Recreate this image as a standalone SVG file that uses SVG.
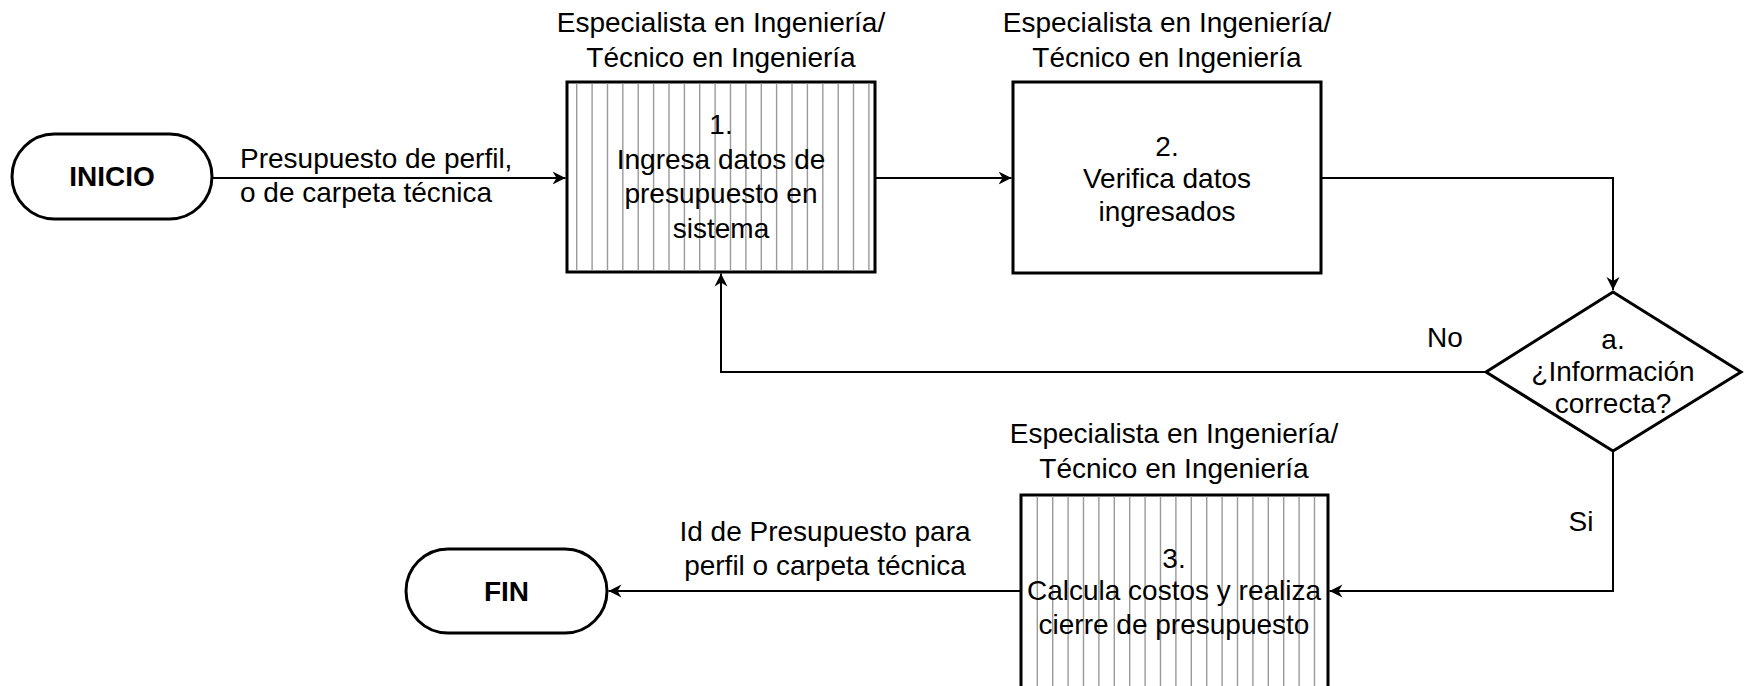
<svg xmlns="http://www.w3.org/2000/svg" width="1746" height="686" viewBox="0 0 1746 686">
<style>
  text { font-family: "Liberation Sans", Arial, sans-serif; font-size: 28px; fill: #000; }
  .c { text-anchor: middle; }
  .b { font-weight: bold; }
  .shape { fill: #fff; stroke: #000; stroke-width: 3; }
  .hatch { fill: none; stroke: #9a9a9a; stroke-width: 1.4; }
  .conn { fill: none; stroke: #000; stroke-width: 2; }
</style>
<defs>
  <marker id="arr" markerUnits="userSpaceOnUse" markerWidth="14" markerHeight="14" refX="13" refY="7" orient="auto">
    <path d="M0,0.5 L13,7 L0,13.5 L4,7 Z" fill="#000"/>
  </marker>
</defs>
<rect width="1746" height="686" fill="#fff"/>

<g id="inicio">
  <rect class="shape" x="12" y="134" width="200" height="85" rx="42.5" ry="42.5"/>
  <text class="c b" x="112" y="186">INICIO</text>
</g>

<g id="step1">
  <text class="c" x="721" y="32">Especialista en Ingeniería/</text>
  <text class="c" x="721" y="67">Técnico en Ingeniería</text>
  <rect class="shape" x="567" y="82" width="308" height="190"/>
  <path class="hatch" d="M576.7,83.5V270.5M592.1,83.5V270.5M607.5,83.5V270.5M622.8,83.5V270.5M638.2,83.5V270.5M653.6,83.5V270.5M669,83.5V270.5M684.4,83.5V270.5M699.7,83.5V270.5M715.1,83.5V270.5M730.5,83.5V270.5M745.9,83.5V270.5M761.3,83.5V270.5M776.6,83.5V270.5M792,83.5V270.5M807.4,83.5V270.5M822.8,83.5V270.5M838.2,83.5V270.5M853.5,83.5V270.5M868.9,83.5V270.5"/>
  <text class="c" x="721" y="134">1.</text>
  <text class="c" x="721" y="168.5">Ingresa datos de</text>
  <text class="c" x="721" y="203">presupuesto en</text>
  <text class="c" x="721" y="237.5">sistema</text>
</g>

<g id="step2">
  <text class="c" x="1167" y="32">Especialista en Ingeniería/</text>
  <text class="c" x="1167" y="67">Técnico en Ingeniería</text>
  <rect class="shape" x="1013" y="82" width="308" height="191"/>
  <text class="c" x="1167" y="156">2.</text>
  <text class="c" x="1167" y="188">Verifica datos</text>
  <text class="c" x="1167" y="221">ingresados</text>
</g>

<g id="decision">
  <polygon class="shape" points="1613,292 1741,372 1613,451 1486,372"/>
  <text class="c" x="1613" y="349">a.</text>
  <text class="c" x="1613" y="381">¿Información</text>
  <text class="c" x="1613" y="413">correcta?</text>
</g>

<g id="step3">
  <text class="c" x="1174" y="443">Especialista en Ingeniería/</text>
  <text class="c" x="1174" y="478">Técnico en Ingeniería</text>
  <rect class="shape" x="1021" y="495" width="307" height="194"/>
  <path class="hatch" d="M1037.3,496.5V686M1052.7,496.5V686M1068.1,496.5V686M1083.5,496.5V686M1098.9,496.5V686M1114.3,496.5V686M1129.7,496.5V686M1145.1,496.5V686M1160.5,496.5V686M1175.9,496.5V686M1191.3,496.5V686M1206.7,496.5V686M1222.1,496.5V686M1237.5,496.5V686M1252.9,496.5V686M1268.3,496.5V686M1283.7,496.5V686M1299.1,496.5V686M1314.5,496.5V686"/>
  <text class="c" x="1174" y="568">3.</text>
  <text class="c" x="1174" y="600">Calcula costos y realiza</text>
  <text class="c" x="1174" y="634">cierre de presupuesto</text>
</g>

<g id="fin">
  <rect class="shape" x="406" y="549" width="201" height="84" rx="42" ry="42"/>
  <text class="c b" x="506.5" y="601">FIN</text>
</g>

<g id="connectors">
  <path class="conn" d="M212,178 H565.5" marker-end="url(#arr)"/>
  <path class="conn" d="M875,178 H1011.5" marker-end="url(#arr)"/>
  <path class="conn" d="M1321,178 H1613 V290" marker-end="url(#arr)"/>
  <path class="conn" d="M1486,372 H721 V273.5" marker-end="url(#arr)"/>
  <path class="conn" d="M1613,451 V591 H1329.5" marker-end="url(#arr)"/>
  <path class="conn" d="M1021,591 H608.5" marker-end="url(#arr)"/>
  <text x="240" y="168">Presupuesto de perfil,</text>
  <text x="240" y="202">o de carpeta técnica</text>
  <text class="c" x="1445" y="347">No</text>
  <text class="c" x="1581" y="531">Si</text>
  <text class="c" x="825" y="541">Id de Presupuesto para</text>
  <text class="c" x="825" y="575">perfil o carpeta técnica</text>
</g>
</svg>
